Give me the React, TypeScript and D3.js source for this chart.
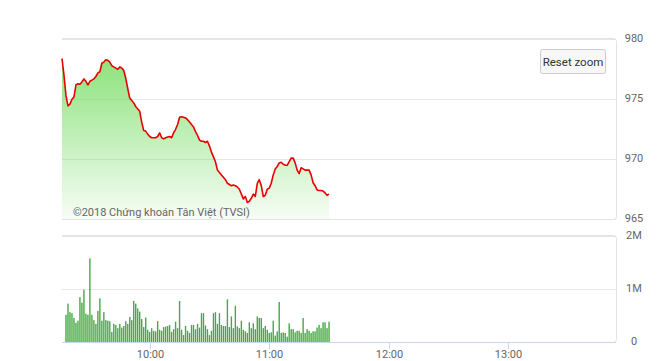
import React, { useMemo } from "react";
import * as d3 from "d3";

// ---- Data ----
const priceStart = "09:16"; // one value per minute from this time
const priceValues: number[] = [
  978.4, 977.0, 975.3, 974.45, 974.6, 975.0, 975.2, 976.2, 976.3, 976.25,
  976.45, 976.7, 976.5, 976.2, 976.5, 976.6, 976.7, 976.9, 977.2, 977.3,
  978.0, 978.1, 978.3, 978.25, 978.1, 977.8, 977.7, 977.6, 977.5, 977.7,
  977.6, 977.4, 976.75, 975.9, 975.1, 974.9, 974.7, 974.4, 974.2, 974.0,
  973.1, 972.4, 972.35, 972.1, 971.9, 971.8, 971.8, 971.8, 971.9, 972.2,
  971.8, 971.7, 971.8, 971.85, 971.9, 971.8, 972.2, 972.5, 972.9, 973.5,
  973.55, 973.5, 973.45, 973.3, 973.1, 972.9, 972.7, 972.3, 972.0, 971.6,
  971.5, 971.5, 971.4, 971.5, 971.1, 970.6, 970.2, 969.8, 969.1, 968.9,
  968.7, 968.5, 968.3, 968.0, 967.9, 967.8, 967.85, 967.8, 967.7, 967.5,
  967.1, 966.7, 966.9, 966.4, 966.5, 966.75, 967.1, 966.9, 968.0, 968.3,
  967.8, 966.9, 967.0, 967.5, 967.6, 968.0, 968.7, 969.2, 969.4, 969.7,
  969.75, 969.6, 969.5, 969.5, 969.8, 970.1, 970.1, 969.7, 969.1, 968.8,
  969.3, 969.2, 969.1, 969.1, 969.1, 968.7, 968.05, 967.8, 967.45, 967.4,
  967.4, 967.35, 967.2, 967.0, 967.1,
];

const volumeStart = "09:18"; // one bar per minute from this time
const volumeValues: number[] = [
  0.52, 0.73, 0.57, 0.55, 0.46, 0.37, 0.41, 0.85, 0.75, 0.99,
  0.54, 0.52, 1.58, 0.52, 0.42, 0.35, 0.59, 0.83, 0.41, 0.57,
  0.42, 0.41, 0.40, 0.20, 0.35, 0.33, 0.27, 0.35, 0.28, 0.31,
  0.40, 0.35, 0.48, 0.42, 0.78, 0.73, 0.64, 0.58, 0.44, 0.29,
  0.47, 0.24, 0.20, 0.27, 0.22, 0.21, 0.40, 0.24, 0.22, 0.29,
  0.30, 0.31, 0.33, 0.20, 0.25, 0.39, 0.27, 0.78, 0.24, 0.14,
  0.31, 0.22, 0.18, 0.33, 0.33,
  0.25, 0.35, 0.28, 0.55, 0.55, 0.32, 0.25, 0.14, 0.22, 0.55,
  0.57, 0.35, 0.55, 0.33, 0.31, 0.31, 0.81, 0.29, 0.49, 0.27,
  0.69, 0.30, 0.27, 0.41, 0.24, 0.21, 0.18, 0.38, 0.27, 0.36,
  0.25, 0.49, 0.46, 0.46, 0.27, 0.31, 0.24, 0.18, 0.19, 0.41,
  0.13, 0.21, 0.76, 0.18, 0.19, 0.18, 0.11, 0.36, 0.25, 0.25,
  0.19, 0.22, 0.22, 0.18, 0.46, 0.18, 0.25, 0.22, 0.18, 0.21,
  0.21, 0.28, 0.33, 0.27, 0.38, 0.38, 0.27, 0.39,
].map((v) => v * 1e6);

const xDomain = ["09:16", "13:54"];
const xTickLabels = ["10:00", "11:00", "12:00", "13:00"];
const priceTicks = [965, 970, 975, 980];
const volumeTicks = [0, 1e6, 2e6];
const volumeTickLabels = ["0", "1M", "2M"];
const creditText = "©2018 Chứng khoán Tân Việt (TVSI)";

const parse = d3.timeParse("%H:%M");

export default function App() {
  const W = 660;
  const H = 361;
  const left = 62;
  const right = 616;
  const font = "Roboto, 'Noto Sans', sans-serif";

  const x = d3
    .scaleTime()
    .domain(xDomain.map((s) => parse(s) as Date))
    .range([left, right]);
  const yP = d3.scaleLinear().domain([965, 980]).range([219.3, 39.3]);
  const yV = d3.scaleLinear().domain([0, 2e6]).range([342.5, 236]);

  const priceData = useMemo(() => {
    const s = parse(priceStart) as Date;
    return priceValues.map((v, i) => ({ t: d3.timeMinute.offset(s, i), v }));
  }, []);
  const volData = useMemo(() => {
    const s = parse(volumeStart) as Date;
    return volumeValues.map((v, i) => ({ t: d3.timeMinute.offset(s, i), v }));
  }, []);

  const line = d3
    .line<{ t: Date; v: number }>()
    .x((d) => x(d.t))
    .y((d) => yP(d.v));
  const area = d3
    .area<{ t: Date; v: number }>()
    .x((d) => x(d.t))
    .y0(yP(965))
    .y1((d) => yP(d.v));

  const crisp = (v: number) => Math.round(v) + 0.5;

  // frame: top, right and bottom edges with rounded right corners
  const frame = (top: number, bottom: number) => {
    const r = 3;
    const rx = right + 0.5;
    return `M${left},${top}H${rx - r}Q${rx},${top} ${rx},${top + r}V${bottom - r}Q${rx},${bottom} ${rx - r},${bottom}H${left}`;
  };

  return (
    <svg
      width={W}
      height={H}
      style={{ position: "absolute", left: 0, top: 0, background: "#fff" }}
      fontFamily={font}
    >
      <defs>
        <linearGradient id="pg" gradientUnits="userSpaceOnUse" x1={0} y1={yP(979)} x2={0} y2={yP(965)}>
          <stop offset="0" stopColor="rgb(115,220,95)" stopOpacity={0.85} />
          <stop offset="1" stopColor="rgb(115,220,95)" stopOpacity={0.06} />
        </linearGradient>
      </defs>
      <rect x={0} y={0} width={W} height={H} fill="#fff" />

      {/* price panel grid */}
      {priceTicks.map((t) => (
        <line key={t} x1={left} x2={right} y1={crisp(yP(t))} y2={crisp(yP(t))} stroke="#e6e6e6" />
      ))}
      <path d={frame(38.5, 219.5)} fill="none" stroke="#e3e3e3" />
      <path d={area(priceData) || ""} fill="url(#pg)" />
      <path d={line(priceData) || ""} fill="none" stroke="#e80000" strokeWidth={1.6} strokeLinejoin="round" />
      <text x={73} y={216} fontSize={11} fill="#666">
        {creditText}
      </text>
      {priceTicks.map((t) => (
        <text key={t} x={634} y={yP(t) - 1} dy="0.35em" textAnchor="middle" fontSize={11} fill="#666">
          {t}
        </text>
      ))}

      {/* volume panel */}
      {volumeTicks.slice(1).map((t) => (
        <line key={t} x1={left} x2={right} y1={crisp(yV(t))} y2={crisp(yV(t))} stroke="#e6e6e6" />
      ))}
      <path d={frame(235.5, 342.5)} fill="none" stroke="#e3e3e3" />
      {volData.map((d, i) => (
        <rect
          key={i}
          x={x(d.t) - 0.7}
          y={yV(d.v)}
          width={1.4}
          height={yV(0) - yV(d.v)}
          fill="#46a846"
        />
      ))}
      <line x1={left} x2={right} y1={342.5} y2={342.5} stroke="#ccd6eb" />
      {volumeTicks.map((t, i) => (
        <text key={t} x={634} y={yV(t) - 1} dy="0.35em" textAnchor="middle" fontSize={11} fill="#666">
          {volumeTickLabels[i]}
        </text>
      ))}

      {/* x axis */}
      {xTickLabels.map((s) => {
        const px = crisp(x(parse(s) as Date));
        return (
          <g key={s}>
            <line x1={px} x2={px} y1={342.5} y2={349} stroke="#ccd6eb" />
            <text x={px} y={358} textAnchor="middle" fontSize={11} fill="#666">
              {s}
            </text>
          </g>
        );
      })}

      {/* reset zoom button */}
      <rect x={540.5} y={49.5} width={65} height={24} rx={2} fill="#f7f7f7" stroke="#cccccc" />
      <text x={573} y={65.5} textAnchor="middle" fontSize={11.5} fill="#333">
        Reset zoom
      </text>
    </svg>
  );
}
